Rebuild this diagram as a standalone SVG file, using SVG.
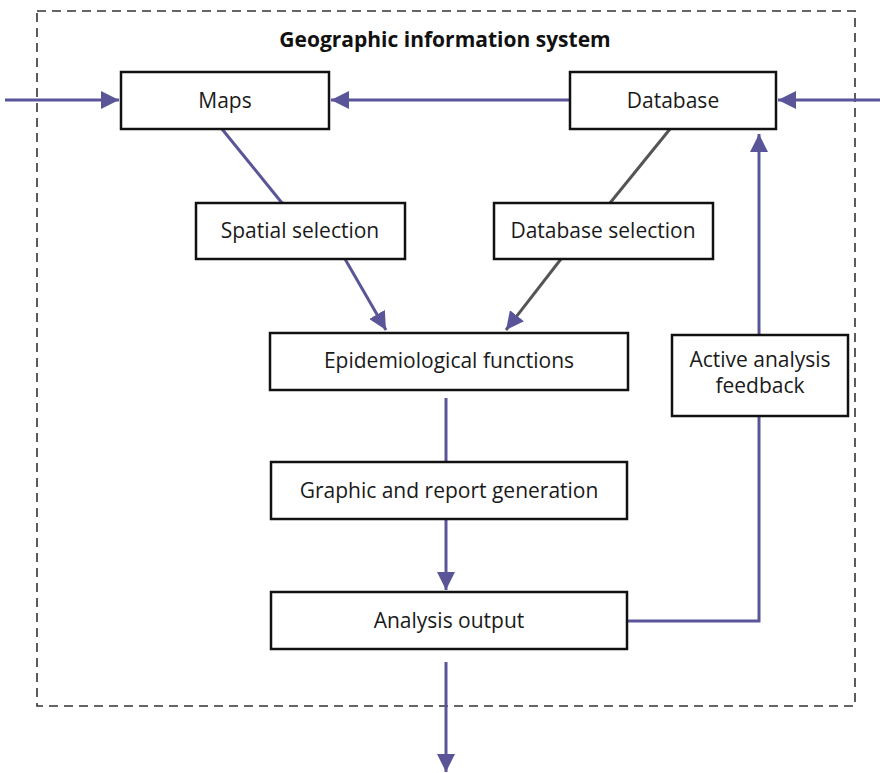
<svg xmlns="http://www.w3.org/2000/svg" width="880" height="773" viewBox="0 0 880 773">
<style>
.box{fill:#ffffff;stroke:#111;stroke-width:2.5}
.lbl{font-family:"Open Sans","DejaVu Sans",sans-serif;font-size:21px;fill:#1a1a1a;text-anchor:middle}
.title{font-family:"Open Sans","DejaVu Sans",sans-serif;font-size:21px;font-weight:bold;fill:#111;text-anchor:middle}
.conn{fill:none;stroke:#5a5599;stroke-width:3}
.gray{fill:none;stroke:#555;stroke-width:3}
</style>
<defs>
<marker id="ah" viewBox="0 0 10 10" refX="10" refY="5" markerWidth="6" markerHeight="6" markerUnits="strokeWidth" orient="auto">
<path d="M0,0 L10,5 L0,10 Z" fill="#5a5599"/>
</marker>
</defs>
<rect x="0" y="0" width="880" height="773" fill="#ffffff"/>
<rect x="37" y="11" width="818" height="695" fill="none" stroke="#333" stroke-width="1.6" stroke-dasharray="9,6"/>
<text class="title" x="445" y="47">Geographic information system</text>
<g id="connectors">
<path class="conn" d="M5,100 L119,100" marker-end="url(#ah)"/>
<path class="conn" d="M570,100 L331,100" marker-end="url(#ah)"/>
<path class="conn" d="M880,100 L778,100" marker-end="url(#ah)"/>
<path class="conn" d="M222,129 L282,203"/>
<path class="conn" d="M345,259 L386,330" marker-end="url(#ah)"/>
<path class="gray" d="M670,129 L610,203"/>
<path class="gray" d="M561,259 L506,330" marker-end="url(#ah)"/>
<path class="conn" d="M446,398 L446,462"/>
<path class="conn" d="M446,519 L446,590" marker-end="url(#ah)"/>
<path class="conn" d="M627,621 L759,621 L759,416"/>
<path class="conn" d="M759,335 L759,134" marker-end="url(#ah)"/>
<path class="conn" d="M446,662 L446,772" marker-end="url(#ah)"/>
</g>
<g id="maps"><rect class="box" x="121" y="72" width="208" height="57"/><text class="lbl" x="225" y="108">Maps</text></g>
<g id="database"><rect class="box" x="570" y="72" width="206" height="57"/><text class="lbl" x="673" y="108">Database</text></g>
<g id="spatial"><rect class="box" x="196" y="203" width="209" height="56"/><text class="lbl" x="300" y="238">Spatial selection</text></g>
<g id="dbsel"><rect class="box" x="494" y="203" width="219" height="56"/><text class="lbl" x="603" y="238">Database selection</text></g>
<g id="epi"><rect class="box" x="270" y="333" width="358" height="57"/><text class="lbl" x="449" y="368">Epidemiological functions</text></g>
<g id="feedback"><rect class="box" x="672" y="335" width="176" height="81"/><text class="lbl" x="760" y="367">Active analysis</text><text class="lbl" x="760" y="393">feedback</text></g>
<g id="graphic"><rect class="box" x="271" y="462" width="356" height="57"/><text class="lbl" x="449" y="498">Graphic and report generation</text></g>
<g id="output"><rect class="box" x="271" y="592" width="356" height="57"/><text class="lbl" x="449" y="628">Analysis output</text></g>
</svg>
